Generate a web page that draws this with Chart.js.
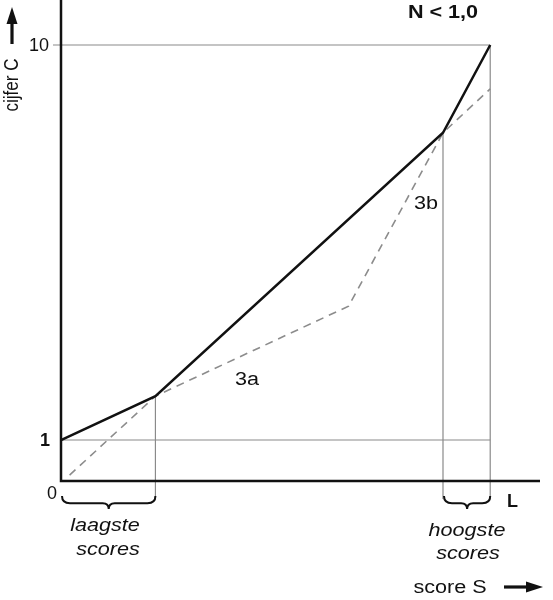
<!DOCTYPE html>
<html>
<head>
<meta charset="utf-8">
<script src="https://cdn.jsdelivr.net/npm/chart.js@4"></script>
<style>
  html, body { margin: 0; padding: 0; background: #fff; }
  #wrap { width: 553px; height: 600px; }
</style>
</head>
<body>
<div id="wrap"><canvas id="chart"></canvas></div>
<script>
  // score S (L = 100) en cijfer C
  const solidX = [0, 22, 89, 100];
  const solidY = [1, 2, 8.0, 10];
  const dashX = [2, 22, 67, 89, 100];
  const dashY = [0.2, 2, 4.05, 8.0, 9.0];
  const gridY = [1, 10];
  const tickLabels = ["0", "1", "10"];
  const groupX = [[0, 22], [89, 100]];

  const toPts = (xs, ys) => xs.map((x, i) => ({ x: x, y: ys[i] }));

  // tekst iets breder getrokken, zoals in het origineel
  function wideText(ctx, txt, x, y, sx) {
    ctx.save();
    ctx.translate(x, y);
    ctx.scale(sx, 1);
    ctx.fillText(txt, 0, 0);
    ctx.restore();
  }

  function brace(ctx, x1, x2, y, h) {
    const m = (x1 + x2) / 2;
    ctx.beginPath();
    ctx.moveTo(x1, y);
    ctx.quadraticCurveTo(x1, y + h * 0.55, x1 + 8, y + h * 0.55);
    ctx.lineTo(m - 6, y + h * 0.55);
    ctx.quadraticCurveTo(m, y + h * 0.55, m, y + h);
    ctx.quadraticCurveTo(m, y + h * 0.55, m + 6, y + h * 0.55);
    ctx.lineTo(x2 - 8, y + h * 0.55);
    ctx.quadraticCurveTo(x2, y + h * 0.55, x2, y);
    ctx.stroke();
  }

  function arrow(ctx, x1, y1, x2, y2) {
    const a = Math.atan2(y2 - y1, x2 - x1);
    ctx.beginPath();
    ctx.moveTo(x1, y1);
    ctx.lineTo(x2 - 12 * Math.cos(a), y2 - 12 * Math.sin(a));
    ctx.lineWidth = 3.2;
    ctx.stroke();
    ctx.beginPath();
    ctx.moveTo(x2, y2);
    ctx.lineTo(x2 - 17 * Math.cos(a) + 5.5 * Math.sin(a), y2 - 17 * Math.sin(a) - 5.5 * Math.cos(a));
    ctx.lineTo(x2 - 17 * Math.cos(a) - 5.5 * Math.sin(a), y2 - 17 * Math.sin(a) + 5.5 * Math.cos(a));
    ctx.closePath();
    ctx.fill();
  }

  // assen, hulplijnen en teksten
  const decor = {
    id: "decor",
    beforeDatasetsDraw(chart) {
      const { ctx, chartArea, scales } = chart;
      const xs = scales.x, ys = scales.y;
      const x0 = xs.getPixelForValue(0);
      const xL = xs.getPixelForValue(100);
      const yBase = chartArea.bottom;
      ctx.save();
      ctx.strokeStyle = "#8a8a8a";
      ctx.lineWidth = 1.2;
      // horizontale lijnen bij 1 en 10
      gridY.forEach((v) => {
        const y = ys.getPixelForValue(v);
        ctx.beginPath();
        ctx.moveTo(v === 10 ? x0 - 8 : x0, y);
        ctx.lineTo(xL, y);
        ctx.stroke();
      });
      // verticale lijnen naar de accolades
      [[22, 2], [89, 8.0], [100, 10]].forEach(([vx, vy]) => {
        const x = xs.getPixelForValue(vx);
        ctx.beginPath();
        ctx.moveTo(x, ys.getPixelForValue(vy));
        ctx.lineTo(x, yBase + 18);
        ctx.stroke();
      });
      // assen
      ctx.strokeStyle = "#111";
      ctx.lineWidth = 2.5;
      ctx.beginPath();
      ctx.moveTo(x0, chartArea.top);
      ctx.lineTo(x0, yBase);
      ctx.lineTo(chartArea.right, yBase);
      ctx.stroke();
      ctx.restore();
    },
    afterDatasetsDraw(chart) {
      const { ctx, chartArea, scales } = chart;
      const xs = scales.x, ys = scales.y;
      const yBase = chartArea.bottom;
      const f = "'Liberation Sans', Arial, sans-serif";
      ctx.save();
      ctx.fillStyle = "#111";
      ctx.strokeStyle = "#111";
      ctx.font = "18px " + f;
      ctx.textBaseline = "middle";
      ctx.textAlign = "right";
      ctx.fillText(tickLabels[2], 49, ys.getPixelForValue(10) + 1);
      ctx.font = "bold 18px " + f;
      ctx.fillText(tickLabels[1], 50, ys.getPixelForValue(1) + 1);
      ctx.font = "18px " + f;
      ctx.fillText(tickLabels[0], 57, yBase + 13);
      ctx.textAlign = "left";
      ctx.font = "bold 18px " + f;
      ctx.fillText("L", 507, yBase + 21);

      ctx.textAlign = "center";
      ctx.font = "bold 18px " + f;
      wideText(ctx, "N < 1,0", 443, 13, 1.2);

      ctx.font = "18px " + f;
      wideText(ctx, "3a", 247, 380, 1.2);
      wideText(ctx, "3b", 426, 204, 1.2);

      ctx.font = "italic 18px " + f;
      wideText(ctx, "laagste", 105, 526, 1.2);
      wideText(ctx, "scores", 108, 550, 1.2);
      wideText(ctx, "hoogste", 467, 531, 1.2);
      wideText(ctx, "scores", 468, 554, 1.2);

      ctx.font = "18px " + f;
      wideText(ctx, "score S", 450, 588, 1.2);
      arrow(ctx, 504, 587, 543, 587);

      // y-as titel
      ctx.save();
      ctx.translate(13, 85);
      ctx.rotate(-Math.PI / 2);
      ctx.scale(1, 1.15);
      ctx.font = "17px " + f;
      ctx.fillText("cijfer C", 0, 0);
      ctx.restore();
      arrow(ctx, 12, 44, 12, 7);

      // accolades
      ctx.lineWidth = 2;
      groupX.forEach(([a, b]) => {
        brace(ctx, xs.getPixelForValue(a) + 1, xs.getPixelForValue(b), yBase + 15, 13);
      });
      ctx.restore();
    }
  };

  new Chart(document.getElementById("chart"), {
    type: "scatter",
    data: {
      datasets: [
        {
          data: toPts(solidX, solidY),
          showLine: true,
          borderColor: "#111",
          borderWidth: 2.5,
          pointRadius: 0,
          tension: 0
        },
        {
          data: toPts(dashX, dashY),
          showLine: true,
          borderColor: "#8c8c8c",
          borderWidth: 1.6,
          borderDash: [8, 6],
          pointRadius: 0,
          tension: 0
        }
      ]
    },
    options: {
      responsive: true,
      maintainAspectRatio: false,
      animation: false,
      layout: { padding: { left: 61, right: 13, top: 0, bottom: 119 } },
      plugins: { legend: { display: false }, tooltip: { enabled: false } },
      scales: {
        x: { type: "linear", min: 0, max: 111.6, display: false },
        y: { type: "linear", min: 0.066, max: 11.025, display: false }
      }
    },
    plugins: [decor]
  });
</script>
</body>
</html>
